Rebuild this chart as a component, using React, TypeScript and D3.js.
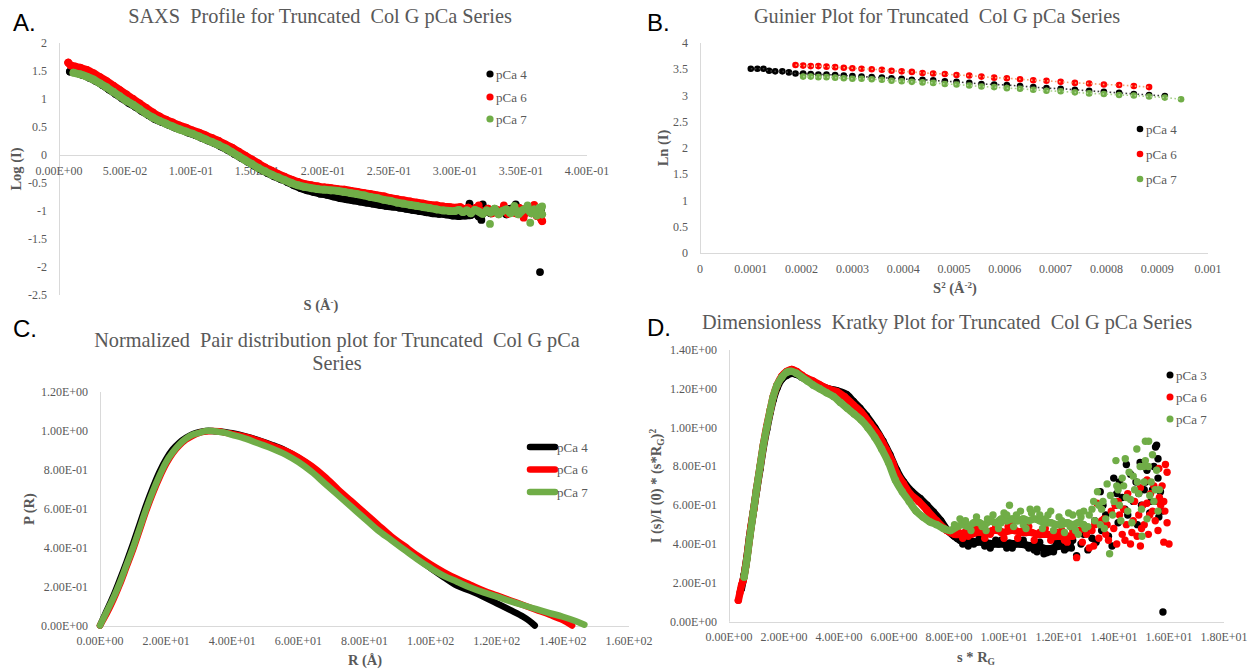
import React from "react";
import * as d3 from "d3";

const BLACK = "#000000";
const RED = "#FF0000";
const GREEN = "#70AD47";
const GRAY = "#595959";
const AXIS = "#D9D9D9";
const SERIF = "'Liberation Serif','Times New Roman',serif";
const SANS = "'Liberation Sans',Arial,sans-serif";

// ---------------- Panel A: SAXS profile ----------------
const A_X_TICKS = [0, 0.05, 0.1, 0.15, 0.2, 0.25, 0.3, 0.35, 0.4];
const A_X_LABELS = ["0.00E+00", "5.00E-02", "1.00E-01", "1.50E-01", "2.00E-01", "2.50E-01", "3.00E-01", "3.50E-01", "4.00E-01"];
const A_Y_TICKS = [2, 1.5, 1, 0.5, 0, -0.5, -1, -1.5, -2, -2.5];
const A_Y_LABELS = ["2", "1.5", "1", "0.5", "0", "-0.5", "-1", "-1.5", "-2", "-2.5"];

const A_PCA4_CURVE: [number, number][] = [
  [0.0083, 1.49], [0.010, 1.50], [0.013, 1.47], [0.018, 1.43], [0.023, 1.38], [0.028, 1.32], [0.033, 1.25],
  [0.038, 1.17], [0.043, 1.09], [0.048, 1.01], [0.053, 0.93], [0.058, 0.86], [0.063, 0.78], [0.068, 0.71],
  [0.073, 0.64], [0.078, 0.59], [0.083, 0.54], [0.088, 0.49], [0.093, 0.45], [0.098, 0.40], [0.103, 0.36],
  [0.108, 0.31], [0.113, 0.26], [0.118, 0.21], [0.123, 0.15], [0.128, 0.09], [0.133, 0.02], [0.138, -0.05],
  [0.143, -0.12], [0.148, -0.19], [0.153, -0.26], [0.158, -0.32], [0.163, -0.38], [0.168, -0.43], [0.173, -0.48],
  [0.178, -0.54], [0.183, -0.59], [0.188, -0.63], [0.193, -0.66], [0.198, -0.69], [0.203, -0.71], [0.208, -0.74],
  [0.213, -0.77], [0.218, -0.79], [0.223, -0.81], [0.228, -0.83], [0.233, -0.85], [0.238, -0.87], [0.243, -0.89],
  [0.248, -0.91], [0.253, -0.92], [0.258, -0.94], [0.263, -0.96], [0.268, -0.98], [0.273, -1.00], [0.278, -1.02],
  [0.283, -1.04], [0.288, -1.05], [0.293, -1.06], [0.298, -1.08], [0.303, -1.09], [0.308, -1.08], [0.312, -1.07],
  [0.315, -1.03], [0.318, -1.10], [0.321, -1.05], [0.324, -0.99], [0.327, -1.04], [0.330, -0.97], [0.333, -1.03],
  [0.336, -1.00], [0.339, -1.06], [0.342, -0.96], [0.345, -1.02], [0.348, -0.94], [0.351, -1.04], [0.354, -0.98],
  [0.357, -1.01], [0.360, -0.95], [0.363, -1.05], [0.365, -0.98],
];
const A_PCA4_OUTLIERS: [number, number][] = [
  [0.311, -0.87], [0.320, -1.16], [0.321, -0.88], [0.346, -0.88], [0.3644, -2.09],
];
const A_PCA6_CURVE: [number, number][] = [
  [0.007, 1.65], [0.009, 1.60], [0.012, 1.58], [0.016, 1.56], [0.021, 1.52], [0.026, 1.46], [0.031, 1.39],
  [0.036, 1.32], [0.041, 1.24], [0.046, 1.16], [0.051, 1.08], [0.056, 1.00], [0.061, 0.92], [0.066, 0.84],
  [0.071, 0.76], [0.076, 0.69], [0.081, 0.63], [0.086, 0.58], [0.091, 0.53], [0.096, 0.49], [0.101, 0.44],
  [0.106, 0.40], [0.111, 0.35], [0.116, 0.30], [0.121, 0.25], [0.126, 0.19], [0.131, 0.13], [0.136, 0.06],
  [0.141, -0.01], [0.146, -0.08], [0.151, -0.15], [0.156, -0.22], [0.161, -0.28], [0.166, -0.34], [0.171, -0.39],
  [0.176, -0.44], [0.181, -0.48], [0.186, -0.52], [0.191, -0.54], [0.196, -0.56], [0.201, -0.58], [0.206, -0.59],
  [0.211, -0.61], [0.216, -0.62], [0.221, -0.64], [0.226, -0.66], [0.231, -0.68], [0.236, -0.70], [0.241, -0.72],
  [0.246, -0.74], [0.251, -0.77], [0.256, -0.79], [0.261, -0.81], [0.266, -0.83], [0.271, -0.85], [0.276, -0.87],
  [0.281, -0.89], [0.286, -0.90], [0.291, -0.92], [0.296, -0.93], [0.301, -0.94], [0.304, -0.93], [0.307, -0.97],
  [0.310, -0.94], [0.313, -1.00], [0.316, -0.94], [0.319, -0.99], [0.322, -1.02], [0.325, -0.96], [0.328, -1.04],
  [0.331, -0.97], [0.334, -1.02], [0.337, -0.94], [0.340, -1.05], [0.343, -0.98], [0.346, -1.04], [0.349, -0.95],
  [0.352, -1.07], [0.355, -0.99], [0.358, -1.04], [0.360, -0.94], [0.362, -1.09], [0.364, -0.97], [0.365, -1.13],
  [0.366, -1.18],
];
const A_PCA6_OUTLIERS: [number, number][] = [
  [0.318, -0.90], [0.337, -0.90], [0.360, -0.89], [0.352, -1.12],
];
const A_PCA7_CURVE: [number, number][] = [
  [0.011, 1.47], [0.016, 1.44], [0.021, 1.40], [0.026, 1.35], [0.031, 1.28], [0.036, 1.21], [0.041, 1.13],
  [0.046, 1.05], [0.051, 0.97], [0.056, 0.90], [0.061, 0.82], [0.066, 0.74], [0.071, 0.67], [0.076, 0.61],
  [0.081, 0.56], [0.086, 0.51], [0.091, 0.46], [0.096, 0.42], [0.101, 0.38], [0.106, 0.33], [0.111, 0.28],
  [0.116, 0.23], [0.121, 0.18], [0.126, 0.12], [0.131, 0.05], [0.136, -0.02], [0.141, -0.09], [0.146, -0.16],
  [0.151, -0.23], [0.156, -0.29], [0.161, -0.35], [0.166, -0.40], [0.171, -0.45], [0.176, -0.50], [0.181, -0.54],
  [0.186, -0.57], [0.191, -0.59], [0.196, -0.61], [0.201, -0.62], [0.206, -0.63], [0.211, -0.64], [0.216, -0.66],
  [0.221, -0.68], [0.226, -0.70], [0.231, -0.72], [0.236, -0.75], [0.241, -0.77], [0.246, -0.80], [0.251, -0.82],
  [0.256, -0.85], [0.261, -0.87], [0.266, -0.89], [0.271, -0.91], [0.276, -0.93], [0.281, -0.95], [0.286, -0.97],
  [0.291, -0.99], [0.296, -1.00], [0.300, -1.00], [0.303, -0.98], [0.306, -1.02], [0.309, -0.99], [0.312, -1.04],
  [0.315, -0.98], [0.318, -1.01], [0.321, -1.05], [0.324, -0.99], [0.327, -1.03], [0.330, -0.96], [0.333, -1.06],
  [0.336, -1.00], [0.339, -0.97], [0.342, -1.04], [0.345, -0.95], [0.348, -1.06], [0.351, -0.99], [0.354, -0.95],
  [0.358, -1.04], [0.360, -0.97], [0.362, -1.08], [0.364, -0.94], [0.365, -1.02], [0.366, -1.06],
];
const A_PCA7_OUTLIERS: [number, number][] = [
  [0.3265, -1.23], [0.357, -1.21], [0.355, -0.90], [0.345, -0.91], [0.366, -0.92],
];

// ---------------- Panel B: Guinier ----------------
const B_X_TICKS = [0, 0.0001, 0.0002, 0.0003, 0.0004, 0.0005, 0.0006, 0.0007, 0.0008, 0.0009, 0.001];
const B_X_LABELS = ["0", "0.0001", "0.0002", "0.0003", "0.0004", "0.0005", "0.0006", "0.0007", "0.0008", "0.0009", "0.001"];
const B_Y_TICKS = [0, 0.5, 1, 1.5, 2, 2.5, 3, 3.5, 4];
const B_Y_LABELS = ["0", "0.5", "1", "1.5", "2", "2.5", "3", "3.5", "4"];

const B_PCA4: [number, number][] = [
  [1.00e-4, 3.51], [1.13e-4, 3.51], [1.25e-4, 3.51], [1.36e-4, 3.47], [1.48e-4, 3.46], [1.62e-4, 3.46],
  [1.75e-4, 3.44], [1.88e-4, 3.42], [2.03e-4, 3.42], [2.18e-4, 3.41], [2.33e-4, 3.40], [2.49e-4, 3.40],
  [2.66e-4, 3.39], [2.83e-4, 3.38], [3.00e-4, 3.37], [3.18e-4, 3.36], [3.38e-4, 3.35], [3.58e-4, 3.34],
  [3.77e-4, 3.33], [3.97e-4, 3.32], [4.17e-4, 3.30], [4.38e-4, 3.30], [4.59e-4, 3.29], [4.82e-4, 3.27],
  [5.05e-4, 3.26], [5.30e-4, 3.24], [5.54e-4, 3.22], [5.79e-4, 3.21], [6.04e-4, 3.20], [6.30e-4, 3.18],
  [6.56e-4, 3.16], [6.82e-4, 3.14], [7.10e-4, 3.13], [7.38e-4, 3.11], [7.66e-4, 3.09], [7.95e-4, 3.07],
  [8.25e-4, 3.05], [8.54e-4, 3.03], [8.84e-4, 3.01], [9.15e-4, 2.99],
];
const B_PCA6: [number, number][] = [
  [1.88e-4, 3.58], [2.03e-4, 3.57], [2.18e-4, 3.56], [2.33e-4, 3.56], [2.49e-4, 3.55], [2.66e-4, 3.54],
  [2.83e-4, 3.53], [3.00e-4, 3.52], [3.18e-4, 3.51], [3.38e-4, 3.50], [3.58e-4, 3.49], [3.77e-4, 3.47],
  [3.97e-4, 3.46], [4.17e-4, 3.45], [4.38e-4, 3.43], [4.59e-4, 3.42], [4.82e-4, 3.41], [5.05e-4, 3.39],
  [5.30e-4, 3.38], [5.54e-4, 3.36], [5.79e-4, 3.34], [6.04e-4, 3.33], [6.30e-4, 3.31], [6.56e-4, 3.29],
  [6.82e-4, 3.28], [7.10e-4, 3.26], [7.38e-4, 3.24], [7.66e-4, 3.23], [7.95e-4, 3.21], [8.25e-4, 3.20],
  [8.54e-4, 3.18], [8.84e-4, 3.16],
];
const B_PCA7: [number, number][] = [
  [2.03e-4, 3.36], [2.18e-4, 3.36], [2.33e-4, 3.35], [2.49e-4, 3.35], [2.66e-4, 3.34], [2.83e-4, 3.33],
  [3.00e-4, 3.32], [3.18e-4, 3.32], [3.38e-4, 3.31], [3.58e-4, 3.30], [3.77e-4, 3.28], [3.97e-4, 3.27],
  [4.17e-4, 3.26], [4.38e-4, 3.25], [4.59e-4, 3.24], [4.82e-4, 3.22], [5.05e-4, 3.21], [5.30e-4, 3.19],
  [5.54e-4, 3.17], [5.79e-4, 3.16], [6.04e-4, 3.14], [6.30e-4, 3.13], [6.56e-4, 3.11], [6.82e-4, 3.09],
  [7.10e-4, 3.08], [7.38e-4, 3.06], [7.66e-4, 3.04], [7.95e-4, 3.03], [8.25e-4, 3.01], [8.54e-4, 3.00],
  [8.84e-4, 2.98], [9.15e-4, 2.96], [9.47e-4, 2.93],
];

// ---------------- Panel C: P(R) ----------------
const C_X_TICKS = [0, 20, 40, 60, 80, 100, 120, 140, 160];
const C_X_LABELS = ["0.00E+00", "2.00E+01", "4.00E+01", "6.00E+01", "8.00E+01", "1.00E+02", "1.20E+02", "1.40E+02", "1.60E+02"];
const C_Y_TICKS = [0, 0.2, 0.4, 0.6, 0.8, 1.0, 1.2];
const C_Y_LABELS = ["0.00E+00", "2.00E-01", "4.00E-01", "6.00E-01", "8.00E-01", "1.00E+00", "1.20E+00"];

const C_PCA4: [number, number][] = [
  [0, 0], [2, 0.075], [4, 0.15], [6, 0.235], [8, 0.325], [10, 0.42], [12, 0.52], [14, 0.62], [16, 0.71],
  [18, 0.79], [20, 0.855], [22, 0.905], [24, 0.94], [26, 0.965], [28, 0.983], [30, 0.994], [32, 1.0], [34, 1.0],
  [36, 0.997], [38, 0.993], [40, 0.988], [44, 0.972], [48, 0.952], [52, 0.928], [56, 0.9], [60, 0.862],
  [64, 0.815], [68, 0.755], [72, 0.69], [76, 0.63], [80, 0.565], [84, 0.505], [88, 0.45], [92, 0.395],
  [96, 0.345], [100, 0.295], [104, 0.248], [108, 0.205], [112, 0.178], [116, 0.148], [120, 0.114],
  [124, 0.08], [128, 0.045], [130, 0.022], [131.5, 0.0],
];
const C_PCA6: [number, number][] = [
  [0, 0], [2, 0.06], [4, 0.13], [6, 0.21], [8, 0.3], [10, 0.39], [12, 0.49], [14, 0.59], [16, 0.68],
  [18, 0.76], [20, 0.83], [22, 0.885], [24, 0.925], [26, 0.955], [28, 0.975], [30, 0.99], [32, 0.997],
  [34, 1.0], [36, 0.998], [38, 0.99], [40, 0.985], [44, 0.97], [48, 0.95], [52, 0.925], [56, 0.9], [60, 0.865],
  [64, 0.82], [68, 0.765], [72, 0.7], [76, 0.64], [80, 0.58], [84, 0.52], [88, 0.46], [92, 0.41], [96, 0.36],
  [100, 0.315], [104, 0.275], [108, 0.24], [112, 0.21], [116, 0.18], [120, 0.155], [124, 0.13], [128, 0.105],
  [132, 0.08], [136, 0.055], [140, 0.028], [142.8, 0.0],
];
const C_PCA7: [number, number][] = [
  [0, 0], [2, 0.07], [4, 0.14], [6, 0.22], [8, 0.31], [10, 0.4], [12, 0.5], [14, 0.6], [16, 0.69], [18, 0.77],
  [20, 0.84], [22, 0.89], [24, 0.93], [26, 0.96], [28, 0.98], [30, 0.99], [32, 1.0], [34, 1.0], [36, 0.995],
  [38, 0.99], [40, 0.98], [44, 0.96], [48, 0.935], [52, 0.91], [56, 0.88], [60, 0.84], [64, 0.79], [68, 0.73],
  [72, 0.67], [76, 0.61], [80, 0.55], [84, 0.49], [88, 0.44], [92, 0.39], [96, 0.34], [100, 0.295],
  [104, 0.255], [108, 0.225], [112, 0.195], [116, 0.17], [120, 0.148], [124, 0.125], [128, 0.104],
  [132, 0.084], [136, 0.064], [140, 0.045], [144, 0.022], [146.5, 0.004],
];

// ---------------- Panel D: Dimensionless Kratky ----------------
const D_X_TICKS = [0, 2, 4, 6, 8, 10, 12, 14, 16, 18];
const D_X_LABELS = ["0.00E+00", "2.00E+00", "4.00E+00", "6.00E+00", "8.00E+00", "1.00E+01", "1.20E+01", "1.40E+01", "1.60E+01", "1.80E+01"];
const D_Y_TICKS = [0, 0.2, 0.4, 0.6, 0.8, 1.0, 1.2, 1.4];
const D_Y_LABELS = ["0.00E+00", "2.00E-01", "4.00E-01", "6.00E-01", "8.00E-01", "1.00E+00", "1.20E+00", "1.40E+00"];

const D_PCA3_CURVE: [number, number][] = [
  [0.45, 0.17], [0.55, 0.24], [0.65, 0.33], [0.75, 0.44], [0.88, 0.56], [1.0, 0.675], [1.13, 0.79], [1.25, 0.9],
  [1.37, 0.99], [1.5, 1.08], [1.61, 1.145], [1.75, 1.205], [1.92, 1.25], [2.1, 1.27], [2.28, 1.28], [2.45, 1.275],
  [2.65, 1.26], [2.85, 1.245], [3.05, 1.23], [3.31, 1.215], [3.6, 1.2], [3.92, 1.19], [4.28, 1.17], [4.52, 1.135],
  [4.76, 1.1], [5.0, 1.06], [5.3, 1.0], [5.6, 0.93], [5.85, 0.86], [6.1, 0.78], [6.35, 0.72], [6.65, 0.67],
  [6.95, 0.635], [7.2, 0.6], [7.43, 0.565], [7.7, 0.52], [7.95, 0.47], [8.2, 0.44], [8.4, 0.42], [8.6, 0.41],
  [8.8, 0.415], [9.0, 0.41], [9.2, 0.41], [9.4, 0.405], [9.6, 0.4], [9.8, 0.4], [10.0, 0.4], [10.2, 0.405],
  [10.4, 0.4], [10.6, 0.4], [10.8, 0.395], [11.0, 0.39], [11.2, 0.39], [11.4, 0.38], [11.6, 0.375], [11.8, 0.38],
  [12.0, 0.39], [12.2, 0.39], [12.4, 0.4],
];
const D_PCA3_SCATTER: [number, number][] = [
  [8.3, 0.43], [8.5, 0.4], [8.7, 0.39], [8.9, 0.4], [9.1, 0.43], [9.3, 0.39], [9.5, 0.38], [9.7, 0.42], [9.9, 0.42],
  [10.1, 0.38], [10.3, 0.38], [10.5, 0.41], [10.7, 0.42], [10.9, 0.38], [11.1, 0.37], [11.2, 0.36], [11.3, 0.41],
  [11.45, 0.35], [11.55, 0.355], [11.65, 0.36], [11.8, 0.36], [11.9, 0.41], [12.1, 0.41], [12.2, 0.37],
  [12.45, 0.38], [12.3, 0.38], [12.5, 0.42], [12.64, 0.34], [12.8, 0.4], [12.9, 0.45], [13.05, 0.37], [13.1, 0.48],
  [13.2, 0.43], [13.3, 0.52], [13.35, 0.41], [13.5, 0.67], [13.55, 0.47], [13.6, 0.6], [13.7, 0.55], [13.8, 0.44],
  [13.93, 0.39], [13.99, 0.74], [14.05, 0.6], [14.1, 0.66], [14.15, 0.51], [14.2, 0.72], [14.3, 0.64], [14.4, 0.58],
  [14.45, 0.81], [14.5, 0.55], [14.6, 0.76], [14.7, 0.62], [14.8, 0.72], [14.85, 0.5], [14.9, 0.66], [14.95, 0.82],
  [15.0, 0.6], [15.1, 0.68], [15.15, 0.72], [15.2, 0.78], [15.3, 0.56], [15.35, 0.62], [15.4, 0.68], [15.45, 0.8],
  [15.51, 0.9], [15.55, 0.91], [15.6, 0.74], [15.6, 0.84], [15.63, 0.54], [15.69, 0.67], [15.72, 0.62],
  [15.75, 0.57], [15.78, 0.05],
];
const D_PCA6_CURVE: [number, number][] = [
  [0.34, 0.11], [0.4, 0.15], [0.46, 0.19], [0.52, 0.215], [0.6, 0.28], [0.7, 0.38], [0.8, 0.49], [0.9, 0.58],
  [1.0, 0.68], [1.13, 0.8], [1.25, 0.91], [1.37, 1.005], [1.5, 1.09], [1.61, 1.16], [1.75, 1.22], [1.92, 1.265],
  [2.1, 1.29], [2.28, 1.3], [2.45, 1.29], [2.65, 1.27], [2.82, 1.255], [3.05, 1.24], [3.31, 1.22], [3.6, 1.2],
  [3.92, 1.186], [4.2, 1.16], [4.52, 1.117], [4.8, 1.08], [5.13, 1.02], [5.45, 0.96], [5.73, 0.885], [5.95, 0.82],
  [6.1, 0.765], [6.35, 0.71], [6.58, 0.66], [6.9, 0.62], [7.19, 0.576], [7.55, 0.52], [7.92, 0.47], [8.2, 0.45],
  [8.4, 0.45], [8.6, 0.46], [8.8, 0.45], [9.0, 0.46], [9.2, 0.46], [9.4, 0.46], [9.6, 0.47], [9.8, 0.47],
  [10.0, 0.46], [10.2, 0.47], [10.4, 0.47], [10.6, 0.46], [10.8, 0.46], [11.0, 0.46], [11.2, 0.45], [11.4, 0.45],
  [11.6, 0.45], [11.8, 0.44], [12.0, 0.44], [12.2, 0.44], [12.4, 0.44],
];
const D_PCA6_SCATTER: [number, number][] = [
  [8.3, 0.47], [8.5, 0.43], [8.7, 0.44], [8.9, 0.48], [9.1, 0.48], [9.3, 0.43], [9.5, 0.45], [9.7, 0.49],
  [9.9, 0.46], [10.0, 0.43], [10.15, 0.49], [10.3, 0.5], [10.5, 0.43], [10.7, 0.47], [10.9, 0.49], [11.1, 0.42],
  [11.3, 0.46], [11.5, 0.48], [11.7, 0.42], [11.9, 0.46], [12.1, 0.47], [12.2, 0.42], [12.3, 0.41], [12.5, 0.47],
  [12.5, 0.44], [12.64, 0.33], [12.75, 0.47], [12.85, 0.41], [13.0, 0.45], [13.1, 0.38], [13.2, 0.47], [13.26, 0.39],
  [13.3, 0.5], [13.38, 0.61], [13.45, 0.43], [13.55, 0.52], [13.63, 0.53], [13.7, 0.45], [13.75, 0.5], [13.8, 0.42],
  [13.9, 0.57], [13.99, 0.48], [14.05, 0.6], [14.1, 0.4], [14.15, 0.62], [14.2, 0.55], [14.3, 0.45], [14.35, 0.58],
  [14.4, 0.42], [14.45, 0.5], [14.5, 0.66], [14.6, 0.4], [14.65, 0.46], [14.7, 0.52], [14.75, 0.62], [14.84, 0.44],
  [14.9, 0.55], [14.96, 0.39], [14.96, 0.69], [15.0, 0.48], [15.05, 0.6], [15.1, 0.5], [15.2, 0.73], [15.2, 0.61],
  [15.25, 0.45], [15.3, 0.55], [15.33, 0.66], [15.4, 0.57], [15.45, 0.7], [15.5, 0.52], [15.55, 0.62], [15.6, 0.47],
  [15.63, 0.79], [15.65, 0.64], [15.7, 0.6], [15.75, 0.7], [15.81, 0.62], [15.81, 0.41], [15.85, 0.57],
  [15.87, 0.81], [15.93, 0.77], [15.93, 0.51], [16.0, 0.4],
];
const D_PCA7_CURVE: [number, number][] = [
  [0.55, 0.23], [0.65, 0.32], [0.75, 0.43], [0.88, 0.56], [1.0, 0.68], [1.13, 0.8], [1.25, 0.91], [1.37, 1.0],
  [1.5, 1.09], [1.61, 1.16], [1.75, 1.22], [1.92, 1.26], [2.1, 1.285], [2.28, 1.29], [2.45, 1.28], [2.65, 1.26],
  [2.85, 1.24], [3.05, 1.22], [3.3, 1.2], [3.55, 1.18], [3.8, 1.16], [4.05, 1.13], [4.3, 1.1], [4.55, 1.07],
  [4.8, 1.04], [5.05, 1.0], [5.3, 0.95], [5.55, 0.89], [5.8, 0.82], [6.05, 0.73], [6.3, 0.67], [6.55, 0.62],
  [6.8, 0.57], [7.05, 0.54], [7.3, 0.515], [7.55, 0.5], [7.8, 0.48], [8.05, 0.47], [8.3, 0.49], [8.5, 0.5],
  [8.7, 0.49], [8.9, 0.51], [9.1, 0.51], [9.3, 0.5], [9.5, 0.52], [9.7, 0.51], [9.9, 0.53], [10.1, 0.52],
  [10.3, 0.53], [10.5, 0.52], [10.7, 0.53], [10.9, 0.52], [11.1, 0.53], [11.3, 0.52], [11.5, 0.51], [11.7, 0.51],
  [11.9, 0.5], [12.1, 0.5], [12.3, 0.51], [12.5, 0.5], [12.7, 0.51], [12.9, 0.5],
];
const D_PCA7_SCATTER: [number, number][] = [
  [8.2, 0.5], [8.4, 0.53], [8.6, 0.52], [8.8, 0.47], [9.0, 0.54], [9.2, 0.49], [9.35, 0.47], [9.4, 0.53],
  [9.6, 0.55], [9.8, 0.48], [9.9, 0.51], [10.0, 0.56], [10.1, 0.55], [10.2, 0.6], [10.35, 0.49], [10.45, 0.55],
  [10.6, 0.57], [10.7, 0.5], [10.8, 0.48], [10.95, 0.58], [11.0, 0.56], [11.2, 0.58], [11.3, 0.55], [11.4, 0.48],
  [11.5, 0.53], [11.6, 0.55], [11.7, 0.57], [11.8, 0.47], [12.0, 0.54], [12.1, 0.52], [12.2, 0.46], [12.35, 0.56],
  [12.4, 0.49], [12.6, 0.47], [12.75, 0.56], [12.8, 0.54], [12.95, 0.48],
  [12.5, 0.55], [12.7, 0.45], [12.9, 0.57], [13.05, 0.49], [13.1, 0.55], [13.2, 0.58], [13.26, 0.62], [13.3, 0.52],
  [13.4, 0.67], [13.45, 0.6], [13.5, 0.5], [13.55, 0.58], [13.6, 0.62], [13.65, 0.48], [13.7, 0.53], [13.75, 0.71],
  [13.84, 0.35], [13.87, 0.65], [13.95, 0.55], [14.0, 0.62], [14.07, 0.83], [14.1, 0.7], [14.15, 0.68],
  [14.2, 0.6], [14.25, 0.52], [14.3, 0.74], [14.35, 0.7], [14.41, 0.84], [14.45, 0.64], [14.5, 0.57], [14.55, 0.77],
  [14.6, 0.63], [14.65, 0.51], [14.7, 0.75], [14.75, 0.68], [14.83, 0.89], [14.85, 0.72], [14.9, 0.66],
  [14.95, 0.8], [15.0, 0.58], [15.02, 0.44], [15.08, 0.8], [15.1, 0.72], [15.14, 0.93], [15.14, 0.83], [15.2, 0.53],
  [15.25, 0.8], [15.26, 0.93], [15.3, 0.65], [15.35, 0.72], [15.4, 0.86], [15.45, 0.62], [15.5, 0.68],
  [15.55, 0.78], [15.6, 0.57], [15.65, 0.68],
];

const LEGEND_ABC = ["pCa 4", "pCa 6", "pCa 7"];
const LEGEND_D = ["pCa 3", "pCa 6", "pCa 7"];
const SERIES_COLORS = [BLACK, RED, GREEN];
const TREND_COLORS = ["#3a3a3a", "#F4A070", "#A9D18E"];

type Sc = d3.ScaleLinear<number, number>;

function Axes(props: {
  x: Sc; y: Sc; xTicks: number[]; xLabels: string[]; yTicks: number[]; yLabels: string[];
  xAxisAt: number; xLabelY: number;
}) {
  const { x, y, xTicks, xLabels, yTicks, yLabels, xAxisAt, xLabelY } = props;
  const [x0, x1] = x.range();
  const [yb, yt] = y.range();
  const ya = Math.round(y(xAxisAt)) + 0.5;
  const xa = Math.round(x0) + 0.5;
  return (
    <g fontFamily={SERIF} fontSize={12} fill={GRAY}>
      <line x1={xa} x2={xa} y1={yt} y2={yb} stroke={AXIS} strokeWidth={1} />
      <line x1={x0} x2={x1} y1={ya} y2={ya} stroke={AXIS} strokeWidth={1} />
      {yTicks.map((t, i) => (
        <text key={"y" + i} x={x0 - 12} y={y(t) + 4} textAnchor="end">{yLabels[i]}</text>
      ))}
      {xTicks.map((t, i) => (
        <text key={"x" + i} x={x(t)} y={xLabelY} textAnchor="middle">{xLabels[i]}</text>
      ))}
    </g>
  );
}

function Dots(props: { x: Sc; y: Sc; data: [number, number][]; color: string; r: number; band?: boolean }) {
  const { x, y, data, color, r, band } = props;
  const line = d3.line<[number, number]>().x((d) => x(d[0])).y((d) => y(d[1])).curve(d3.curveCatmullRom);
  return (
    <g>
      {band && (
        <path d={line(data) || ""} fill="none" stroke={color} strokeWidth={r * 2} strokeLinecap="round" strokeLinejoin="round" />
      )}
      {data.map((d, i) => (
        <circle key={i} cx={x(d[0])} cy={y(d[1])} r={r} fill={color} />
      ))}
    </g>
  );
}

function Title(props: { x: number; y: number; children: React.ReactNode }) {
  return (
    <text x={props.x} y={props.y} textAnchor="middle" fontFamily={SERIF} fontSize={20.3} fill={GRAY} style={{ whiteSpace: "pre" }}>
      {props.children}
    </text>
  );
}

function PanelLabel(props: { x: number; y: number; t: string }) {
  return (
    <text x={props.x} y={props.y} fontFamily={SANS} fontSize={24} fill="#000">{props.t}</text>
  );
}

function AxisTitle(props: { x: number; y: number; rotate?: boolean; children: React.ReactNode }) {
  const { x, y, rotate } = props;
  return (
    <text
      x={x}
      y={y}
      textAnchor="middle"
      fontFamily={SERIF}
      fontSize={14.5}
      fontWeight="bold"
      fill={GRAY}
      transform={rotate ? `rotate(-90, ${x}, ${y})` : undefined}
    >
      {props.children}
    </text>
  );
}

function MarkerLegend(props: { x: number; ys: number[]; labels: string[]; r: number }) {
  return (
    <g fontFamily={SERIF} fontSize={13} fill={GRAY}>
      {props.labels.map((l, i) => (
        <g key={i}>
          <circle cx={props.x} cy={props.ys[i]} r={props.r} fill={SERIES_COLORS[i]} />
          <text x={props.x + 6} y={props.ys[i] + 4.5}>{l}</text>
        </g>
      ))}
    </g>
  );
}

export default function App() {
  const ax = d3.scaleLinear().domain([0, 0.4]).range([59, 587]);
  const ay = d3.scaleLinear().domain([-2.5, 2]).range([295, 43]);
  const bx = d3.scaleLinear().domain([0, 0.001]).range([700, 1208]);
  const by = d3.scaleLinear().domain([0, 4]).range([253, 43]);
  const cx = d3.scaleLinear().domain([0, 160]).range([100, 629]);
  const cy = d3.scaleLinear().domain([0, 1.2]).range([625.5, 392]);
  const dx = d3.scaleLinear().domain([0, 18]).range([729, 1224]);
  const dy = d3.scaleLinear().domain([0, 1.4]).range([621.7, 350]);

  const cLine = d3.line<[number, number]>().x((d) => cx(d[0])).y((d) => cy(d[1])).curve(d3.curveCatmullRom);
  const bLine = (data: [number, number][]) =>
    d3.line<[number, number]>().x((d) => bx(d[0])).y((d) => by(d[1]))(data) || "";

  const aCurves = [A_PCA4_CURVE, A_PCA6_CURVE, A_PCA7_CURVE];
  const aOut = [A_PCA4_OUTLIERS, A_PCA6_OUTLIERS, A_PCA7_OUTLIERS];
  const bSeries = [B_PCA4, B_PCA6, B_PCA7];
  const cSeries = [C_PCA4, C_PCA6, C_PCA7];
  const dCurves = [D_PCA3_CURVE, D_PCA6_CURVE, D_PCA7_CURVE];
  const dScatter = [D_PCA3_SCATTER, D_PCA6_SCATTER, D_PCA7_SCATTER];

  return (
    <svg width={1259} height={670} style={{ position: "absolute", left: 0, top: 0, background: "#fff" }}>
      <rect x={0} y={0} width={1259} height={670} fill="#fff" />

      {/* ---------- A ---------- */}
      <PanelLabel x={13} y={31} t="A." />
      <Title x={320} y={23}>{"SAXS  Profile for Truncated  Col G pCa Series"}</Title>
      <Axes x={ax} y={ay} xTicks={A_X_TICKS} xLabels={A_X_LABELS} yTicks={A_Y_TICKS} yLabels={A_Y_LABELS} xAxisAt={0} xLabelY={175} />
      {aCurves.map((c, i) => (
        <g key={i}>
          <Dots x={ax} y={ay} data={c} color={SERIES_COLORS[i]} r={3.9} band />
          <Dots x={ax} y={ay} data={aOut[i]} color={SERIES_COLORS[i]} r={3.9} />
        </g>
      ))}
      <MarkerLegend x={490} ys={[74, 97, 119]} labels={LEGEND_ABC} r={3.6} />
      <AxisTitle x={21} y={169} rotate>Log (I)</AxisTitle>
      <AxisTitle x={321} y={310}>
        S (Å<tspan dy={-5} fontSize={9}>-</tspan><tspan dy={5}>)</tspan>
      </AxisTitle>

      {/* ---------- B ---------- */}
      <PanelLabel x={647} y={31} t="B." />
      <Title x={937} y={23}>{"Guinier Plot for Truncated  Col G pCa Series"}</Title>
      <Axes x={bx} y={by} xTicks={B_X_TICKS} xLabels={B_X_LABELS} yTicks={B_Y_TICKS} yLabels={B_Y_LABELS} xAxisAt={0} xLabelY={273} />
      {bSeries.map((s, i) => (
        <g key={i}>
          <Dots x={bx} y={by} data={s} color={SERIES_COLORS[i]} r={3.3} />
          <path d={bLine(s)} fill="none" stroke={TREND_COLORS[i]} strokeWidth={1.6} strokeDasharray="1.6 2.4" />
        </g>
      ))}
      <MarkerLegend x={1140} ys={[129, 154, 179]} labels={LEGEND_ABC} r={3.3} />
      <AxisTitle x={668} y={148} rotate>Ln (I)</AxisTitle>
      <AxisTitle x={955} y={293}>
        S<tspan dy={-5} fontSize={9}>2</tspan><tspan dy={5}> (Å</tspan><tspan dy={-5} fontSize={9}>-2</tspan><tspan dy={5}>)</tspan>
      </AxisTitle>

      {/* ---------- C ---------- */}
      <PanelLabel x={13} y={337} t="C." />
      <Title x={337} y={347}>{"Normalized  Pair distribution plot for Truncated  Col G pCa"}</Title>
      <Title x={337} y={370}>Series</Title>
      <Axes x={cx} y={cy} xTicks={C_X_TICKS} xLabels={C_X_LABELS} yTicks={C_Y_TICKS} yLabels={C_Y_LABELS} xAxisAt={0} xLabelY={645} />
      {cSeries.map((s, i) => (
        <path key={i} d={cLine(s) || ""} fill="none" stroke={SERIES_COLORS[i]} strokeWidth={6.5} strokeLinecap="round" strokeLinejoin="round" />
      ))}
      <g fontFamily={SERIF} fontSize={13} fill={GRAY}>
        {LEGEND_ABC.map((l, i) => (
          <g key={i}>
            <line x1={530} x2={555} y1={447 + i * 22.5} y2={447 + i * 22.5} stroke={SERIES_COLORS[i]} strokeWidth={6.5} strokeLinecap="round" />
            <text x={557} y={451.5 + i * 22.5}>{l}</text>
          </g>
        ))}
      </g>
      <AxisTitle x={34} y={509} rotate>P (R)</AxisTitle>
      <AxisTitle x={365} y={665}>R (Å)</AxisTitle>

      {/* ---------- D ---------- */}
      <PanelLabel x={647} y={336} t="D." />
      <Title x={947} y={329}>{"Dimensionless  Kratky Plot for Truncated  Col G pCa Series"}</Title>
      <Axes x={dx} y={dy} xTicks={D_X_TICKS} xLabels={D_X_LABELS} yTicks={D_Y_TICKS} yLabels={D_Y_LABELS} xAxisAt={0} xLabelY={641} />
      {dCurves.map((c, i) => (
        <g key={i}>
          <Dots x={dx} y={dy} data={c} color={SERIES_COLORS[i]} r={3.7} band />
          <Dots x={dx} y={dy} data={dScatter[i]} color={SERIES_COLORS[i]} r={3.7} />
        </g>
      ))}
      <MarkerLegend x={1170} ys={[375, 397, 419]} labels={LEGEND_D} r={3.5} />
      <AxisTitle x={661} y={486} rotate>
        I (s)/I (0) * (s*R<tspan dy={3} fontSize={9.5}>G</tspan><tspan dy={-3}>)</tspan><tspan dy={-5} fontSize={9.5}>2</tspan>
      </AxisTitle>
      <AxisTitle x={976} y={662}>
        s * R<tspan dy={3} fontSize={9.5}>G</tspan>
      </AxisTitle>
    </svg>
  );
}
